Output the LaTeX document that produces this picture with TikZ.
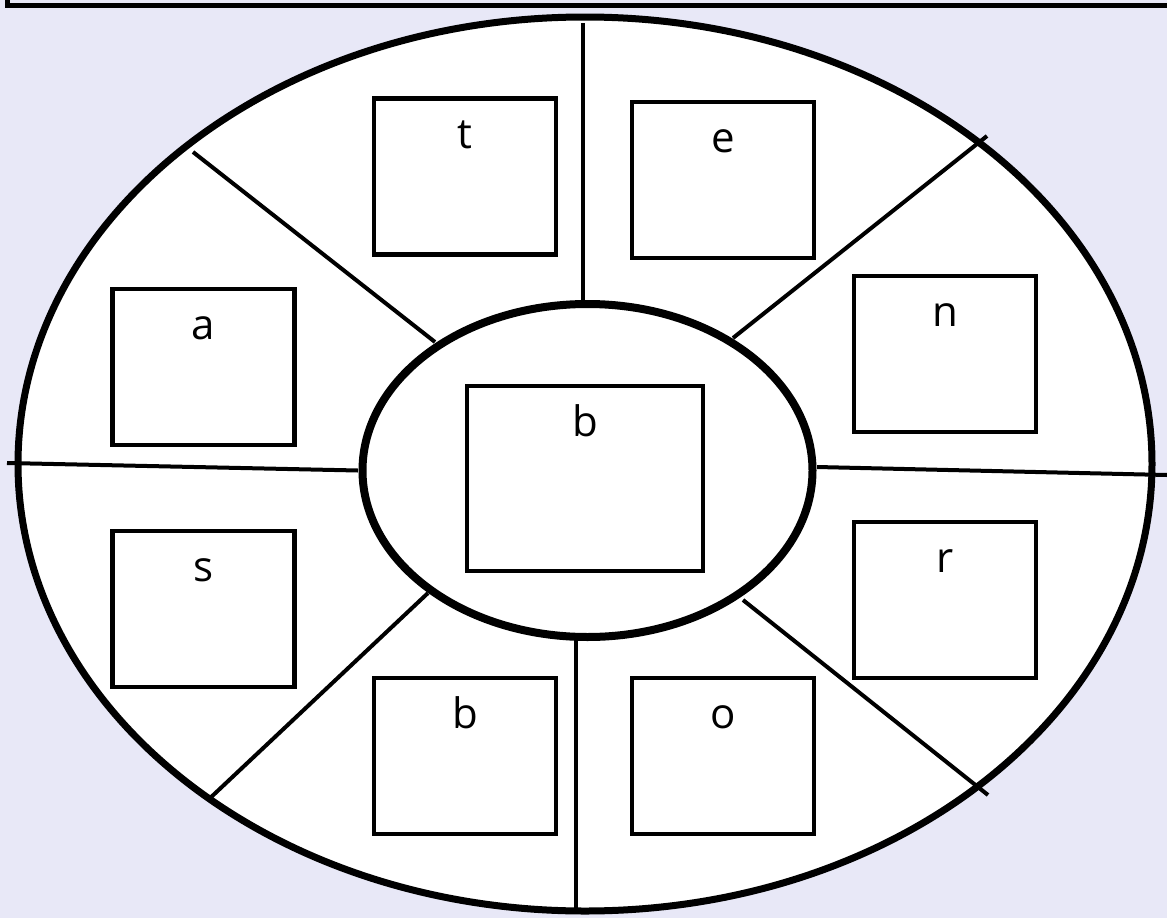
\documentclass[tikz,border=0pt]{standalone}
\usepackage{fontspec}
\setmainfont{Open Sans}
\usetikzlibrary{shapes.geometric}
\definecolor{bgl}{RGB}{232,232,247}
\tikzset{
  seg/.style={line width=4pt},
  cell/.style={draw, line width=4.5pt, fill=white, rectangle, inner sep=0pt, outer sep=0pt,
    minimum width=182pt, minimum height=156pt},
  lbl/.style={anchor=base, inner sep=0pt, font=\fontsize{42}{42}\selectfont},
  oval/.style={draw, ellipse, fill=white, inner sep=0pt, outer sep=0pt}
}
\begin{document}
\begin{tikzpicture}[x=1pt,y=-1pt]
\useasboundingbox (0,0) rectangle (1167,918);
\fill[bgl] (0,0) rectangle (1167,918);
% top frame
\draw[line width=4.5pt] (7.5,-10) -- (7.5,5.5) -- (1180,5.5);
% outer ellipse
\node[oval, line width=7pt, minimum width=1134pt, minimum height=894pt] (outer) at (585,464) {};
% radial division lines
\coordinate (p1a) at (583,23);    \coordinate (p1b) at (583,300);
\coordinate (p2a) at (575.5,640); \coordinate (p2b) at (575.5,913);
\coordinate (p3a) at (7,463);     \coordinate (p3b) at (358,470.5);
\coordinate (p4a) at (817,467);   \coordinate (p4b) at (1167,475);
\coordinate (p5a) at (193,152);   \coordinate (p5b) at (435,342);
\coordinate (p6a) at (733,338);   \coordinate (p6b) at (987,136);
\coordinate (p7a) at (428,593);   \coordinate (p7b) at (208,800);
\coordinate (p8a) at (743,600);   \coordinate (p8b) at (988,795);
\draw[seg] (p1a) -- (p1b);
\draw[seg] (p2a) -- (p2b);
\draw[seg] (p3a) -- (p3b);
\draw[seg] (p4a) -- (p4b);
\draw[seg] (p5a) -- (p5b);
\draw[seg] (p6a) -- (p6b);
\draw[seg] (p7a) -- (p7b);
\draw[seg] (p8a) -- (p8b);
% inner ellipse
\node[oval, line width=8pt, minimum width=450pt, minimum height=333pt] (inner) at (587.5,470.5) {};
% boxes
\node[cell] (bt) at (465,176.25) {};
\node[cell] (ba) at (203.25,367) {};
\node[cell] (be) at (723,180) {};
\node[cell] (bn) at (945,353.75) {};
\node[cell] (br) at (945,599.75) {};
\node[cell] (bo) at (723,755.75) {};
\node[cell] (bs) at (203.25,608.75) {};
\node[cell] (bb) at (465,755.75) {};
\node[cell, minimum width=236pt, minimum height=185pt] (bc) at (585,478.5) {};
% labels
\node[lbl] (lt) at ([yshift=-50.7pt]bt.north) {t};
\node[lbl] (la) at ([yshift=-50.7pt]ba.north) {a};
\node[lbl] (le) at ([yshift=-50.7pt]be.north) {e};
\node[lbl] (ln) at ([yshift=-50.7pt]bn.north) {n};
\node[lbl] (lr) at ([yshift=-50.7pt]br.north) {r};
\node[lbl] (lo) at ([yshift=-50.7pt]bo.north) {o};
\node[lbl] (ls) at ([yshift=-50.7pt]bs.north) {s};
\node[lbl] (lb) at ([yshift=-50.7pt]bb.north) {b};
\node[lbl] (lc) at ([yshift=-50.7pt]bc.north) {b};
\end{tikzpicture}
\end{document}
